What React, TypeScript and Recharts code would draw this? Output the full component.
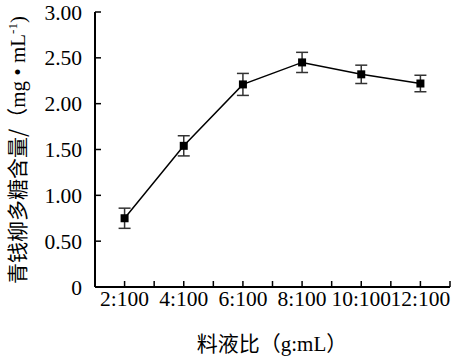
import { LineChart, Line, XAxis, YAxis, ErrorBar, Label } from "recharts";

const categories = ["2:100", "4:100", "6:100", "8:100", "10:100", "12:100"];
const content = [0.75, 1.54, 2.21, 2.45, 2.32, 2.22];
const errors = [0.11, 0.11, 0.12, 0.11, 0.1, 0.09];
const yTicks = [0, 0.5, 1, 1.5, 2, 2.5, 3];

const data = categories.map((name, i) => ({
  x: i + 1,
  name,
  value: content[i],
  err: errors[i],
}));

// ticks at each category centre and on the boundaries between categories
const xTicks = categories
  .flatMap((_, i) => [i + 0.5, i + 1])
  .concat(categories.length + 0.5);

const serif = "'Liberation Serif', 'Times New Roman', serif";
const cjk = "'Noto Sans CJK SC', sans-serif";

const SquareDot = (props: any) => {
  const { cx, cy } = props;
  if (cx == null || cy == null) return null;
  return <rect x={cx - 4} y={cy - 4} width={8} height={8} fill="#000" />;
};

const YTitle = () => (
  <text
    transform="translate(25,150) rotate(-90)"
    textAnchor="middle"
    fontSize={21}
    fill="#000"
  >
    <tspan fontFamily={cjk}>青钱柳多糖含量/（</tspan>
    <tspan fontFamily={serif}>mg • mL</tspan>
    <tspan fontFamily={serif} fontSize={13} dy={-8}>-1</tspan>
    <tspan fontFamily={serif} dy={8}>)</tspan>
  </text>
);

const XTitle = () => (
  <text x={272} y={351} textAnchor="middle" fontSize={21} fill="#000">
    <tspan fontFamily={cjk}>料液比（</tspan>
    <tspan fontFamily={serif}>g:mL</tspan>
    <tspan fontFamily={cjk}>）</tspan>
  </text>
);

export default function App() {
  return (
    <div style={{ position: "absolute", left: 0, top: 0, background: "#fff" }}>
      <LineChart
        width={453}
        height={359}
        data={data}
        margin={{ top: 12, right: 3, left: 0, bottom: 0 }}
      >
        <XAxis
          dataKey="x"
          type="number"
          domain={[0.5, categories.length + 0.5]}
          ticks={xTicks}
          interval={0}
          tickFormatter={(v: number) =>
            Number.isInteger(v) ? categories[v - 1] : ""
          }
          height={72}
          axisLine={{ stroke: "#000", strokeWidth: 2 }}
          tickLine={{ stroke: "#000", strokeWidth: 1.5 }}
          tickSize={-6}
          tickMargin={10}
          tick={{ fill: "#000", fontSize: 21.5, fontFamily: serif }}
        >
          <Label content={<XTitle />} />
        </XAxis>
        <YAxis
          domain={[0, 3]}
          ticks={yTicks}
          interval={0}
          tickFormatter={(v: number) => (v === 0 ? "0" : v.toFixed(2))}
          width={95}
          axisLine={{ stroke: "#000", strokeWidth: 2 }}
          tickLine={{ stroke: "#000", strokeWidth: 1.5 }}
          tickSize={-6}
          tickMargin={19}
          tick={{ fill: "#000", fontSize: 21.5, fontFamily: serif }}
        >
          <Label content={<YTitle />} />
        </YAxis>
        <Line
          dataKey="value"
          stroke="#000"
          strokeWidth={1.5}
          dot={<SquareDot />}
          activeDot={false}
          isAnimationActive={false}
        >
          <ErrorBar
            dataKey="err"
            direction="y"
            width={6}
            stroke="#333"
            strokeWidth={1.5}
          />
        </Line>
      </LineChart>
    </div>
  );
}
